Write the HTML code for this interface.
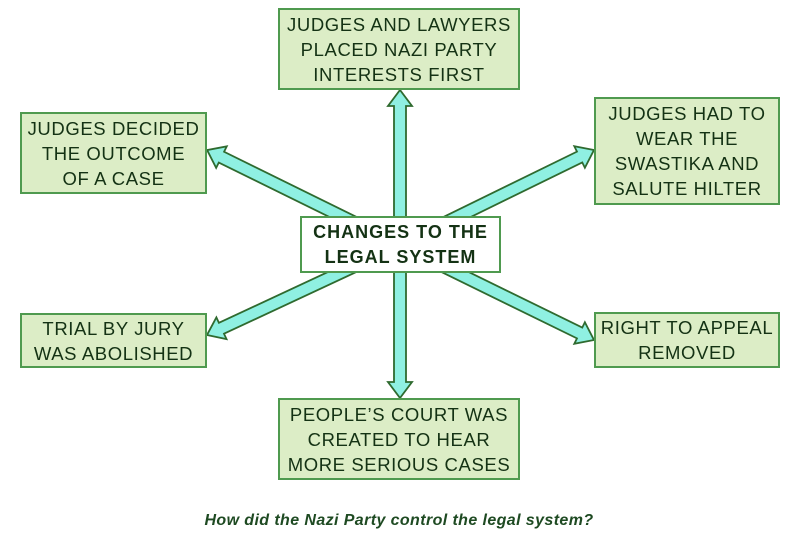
<!DOCTYPE html>
<html><head><style>
body{margin:0;width:798px;height:546px;background:#fff;position:relative;overflow:hidden;font-family:"Liberation Sans",sans-serif}
.b{position:absolute;background:#dcedc6;border:2px solid #4f9a4f;box-sizing:border-box;display:flex;align-items:center;justify-content:center;text-align:center;color:#143214;font-size:18.5px;line-height:25px;letter-spacing:0.6px}
svg{position:absolute;left:0;top:0}
</style></head><body>
<svg width="798" height="546">
<g fill="#8ff0e2" stroke="#2f6a2f" stroke-width="1.8">
<g transform="translate(400,245) rotate(-90)"><path d="M0,-6 H139 V-12 L155,0 L139,12 V6 H0 Z"/></g>
<g transform="translate(400,245) rotate(90)"><path d="M0,-6 H137 V-12 L153,0 L137,12 V6 H0 Z"/></g>
<g transform="translate(400,245) rotate(206.2)"><path d="M0,-6 H199 V-12 L215,0 L199,12 V6 H0 Z"/></g>
<g transform="translate(400,245) rotate(-26.1)"><path d="M0,-6 H200 V-12 L216,0 L200,12 V6 H0 Z"/></g>
<g transform="translate(400,245) rotate(155)"><path d="M0,-6 H197 V-12 L213,0 L197,12 V6 H0 Z"/></g>
<g transform="translate(400,245) rotate(26.1)"><path d="M0,-6 H200 V-12 L216,0 L200,12 V6 H0 Z"/></g>
</g>
</svg>
<div class="b" style="left:278px;top:8px;width:242px;height:82px">JUDGES AND LAWYERS<br>PLACED NAZI PARTY<br>INTERESTS FIRST</div>
<div class="b" style="left:20px;top:112px;width:187px;height:82px">JUDGES DECIDED<br>THE OUTCOME<br>OF A CASE</div>
<div class="b" style="left:594px;top:97px;width:186px;height:108px">JUDGES HAD TO<br>WEAR THE<br>SWASTIKA AND<br>SALUTE HILTER</div>
<div class="b" style="left:300px;top:216px;width:201px;height:57px;background:#fff;font-weight:bold;font-size:18px;letter-spacing:1px">CHANGES TO THE<br>LEGAL SYSTEM</div>
<div class="b" style="left:20px;top:313px;width:187px;height:55px">TRIAL BY JURY<br>WAS ABOLISHED</div>
<div class="b" style="left:594px;top:312px;width:186px;height:56px">RIGHT TO APPEAL<br>REMOVED</div>
<div class="b" style="left:278px;top:398px;width:242px;height:82px">PEOPLE’S COURT WAS<br>CREATED TO HEAR<br>MORE SERIOUS CASES</div>
<div style="position:absolute;left:0;width:798px;top:512px;text-align:center;font-style:italic;font-weight:bold;font-size:16px;letter-spacing:0.4px;color:#1e4a22">How did the Nazi Party control the legal system?</div>
</body></html>
